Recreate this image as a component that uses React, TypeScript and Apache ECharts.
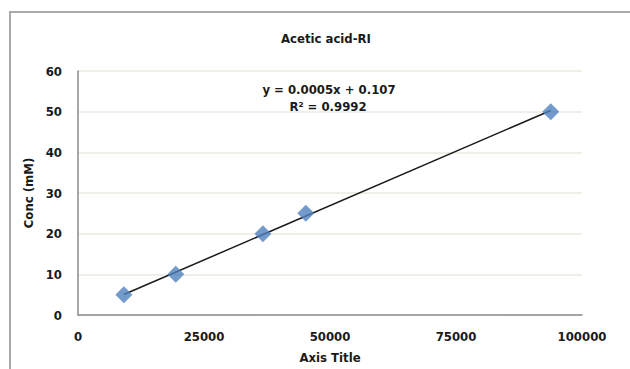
import React, { useEffect, useRef } from "react";
import * as echarts from "echarts";

// Calibration standards: refractive-index detector area vs. concentration
const peakArea: number[] = [9100, 19400, 36700, 45200, 93800];
const concMM: number[] = [5, 10, 20, 25, 50];

const xTicks: number[] = [0, 25000, 50000, 75000, 100000];
const yTicks: number[] = [0, 10, 20, 30, 40, 50, 60];

const chartTitle = "Acetic acid-RI";
const equationLines: string[] = ["y = 0.0005x + 0.107", "R\u00b2 = 0.9992"];
const xAxisName = "Axis Title";
const yAxisName = "Conc (mM)";

const FONT = "'DejaVu Sans Condensed', 'DejaVu Sans', sans-serif";
const INK = "#1a1a1a";

// Least-squares fit, drawn across the span of the standards
function linearFit(xs: number[], ys: number[]) {
  const n = xs.length;
  const mx = xs.reduce((a, b) => a + b, 0) / n;
  const my = ys.reduce((a, b) => a + b, 0) / n;
  let sxy = 0;
  let sxx = 0;
  for (let i = 0; i < n; i++) {
    sxy += (xs[i] - mx) * (ys[i] - my);
    sxx += (xs[i] - mx) * (xs[i] - mx);
  }
  const slope = sxy / sxx;
  return { slope, intercept: my - slope * mx };
}

export default function App() {
  const ref = useRef<HTMLDivElement>(null);

  useEffect(() => {
    if (!ref.current) return;
    const chart = echarts.init(ref.current, undefined, { renderer: "svg" });
    const fit = linearFit(peakArea, concMM);
    const xMin = Math.min(...peakArea);
    const xMax = Math.max(...peakArea);
    const trend = [
      [xMin, fit.slope * xMin + fit.intercept],
      [xMax, fit.slope * xMax + fit.intercept],
    ];

    const label = { fontFamily: FONT, fontSize: 13, fontWeight: "bold", color: INK };
    const textBlock = (text: string, x: number, y: number) => ({
      type: "text",
      x,
      y,
      z: 100,
      style: {
        text,
        fontFamily: FONT,
        fontSize: 13,
        fontWeight: "bold",
        fill: INK,
        align: "center",
        verticalAlign: "middle",
      },
    });

    chart.setOption({
      animation: false,
      backgroundColor: "#ffffff",
      textStyle: { fontFamily: FONT },
      graphic: [
        {
          type: "rect",
          shape: { x: 10, y: 12, width: 700, height: 500 },
          style: { fill: "none", stroke: "#a9a9a9", lineWidth: 2 },
          silent: true,
          z: -1,
        },
        textBlock(chartTitle, 326, 38),
        textBlock(equationLines[0], 329, 89),
        textBlock(equationLines[1], 328, 106),
      ],
      grid: { left: 78, right: 48, top: 71, bottom: 50 },
      xAxis: {
        type: "value",
        min: xTicks[0],
        max: xTicks[xTicks.length - 1],
        interval: xTicks[1] - xTicks[0],
        name: xAxisName,
        nameLocation: "middle",
        nameGap: 36,
        nameTextStyle: { ...label },
        axisLine: { show: true, lineStyle: { color: "#8c8c8c", width: 1.5 } },
        axisTick: { show: false },
        splitLine: { show: false },
        axisLabel: { ...label, margin: 15, formatter: (v: number) => String(v) },
      },
      yAxis: {
        type: "value",
        min: yTicks[0],
        max: yTicks[yTicks.length - 1],
        interval: yTicks[1] - yTicks[0],
        name: yAxisName,
        nameLocation: "middle",
        nameGap: 42,
        nameRotate: 90,
        nameTextStyle: { ...label },
        axisLine: { show: true, lineStyle: { color: "#8c8c8c", width: 1.5 } },
        axisTick: { show: false },
        splitLine: { show: true, lineStyle: { color: "#ebeadf", width: 1.5 } },
        axisLabel: { ...label, margin: 16 },
      },
      series: [
        {
          type: "line",
          data: trend,
          symbol: "none",
          lineStyle: { color: INK, width: 1.5 },
          z: 2,
        },
        {
          type: "scatter",
          data: peakArea.map((x, i) => [x, concMM[i]]),
          symbol: "diamond",
          symbolSize: [17, 17],
          itemStyle: { color: "#4f81bd" },
          z: 3,
        },
      ],
    });
    return () => chart.dispose();
  }, []);

  return (
    <div
      ref={ref}
      style={{ position: "fixed", left: 0, top: 0, width: 630, height: 369 }}
    />
  );
}
